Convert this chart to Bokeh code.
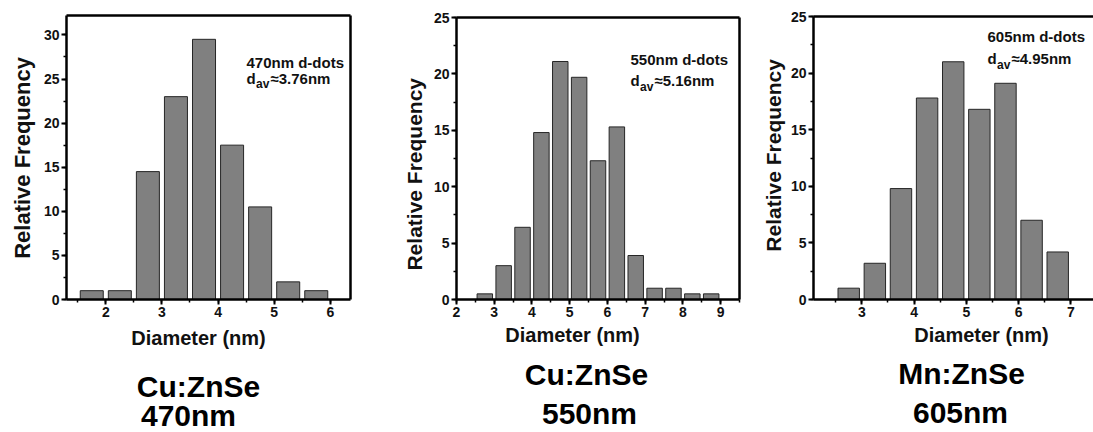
import math
from bokeh.plotting import figure
from bokeh.models import SingleIntervalTicker, FixedTicker, LinearAxis, Label, Range1d
from bokeh.layouts import row, column
from bokeh.core.properties import value
from bokeh.embed import file_html
from bokeh.resources import INLINE

# ---------------- data ----------------
diam_470 = [1.75, 2.25, 2.75, 3.25, 3.75, 4.25, 4.75, 5.25, 5.75]
freq_470 = [1.0, 1.0, 14.5, 23.0, 29.5, 17.5, 10.5, 2.0, 1.0]

diam_550 = [2.75, 3.25, 3.75, 4.25, 4.75, 5.25, 5.75, 6.25, 6.75, 7.25, 7.75, 8.25, 8.75]
freq_550 = [0.5, 3.0, 6.4, 14.8, 21.1, 19.7, 12.3, 15.3, 3.9, 1.0, 1.0, 0.5, 0.5]

diam_605 = [2.75, 3.25, 3.75, 4.25, 4.75, 5.25, 5.75, 6.25, 6.75]
freq_605 = [1.0, 3.2, 9.8, 17.8, 21.0, 16.8, 19.1, 7.0, 4.2]

materials = ["Cu:ZnSe", "Cu:ZnSe", "Mn:ZnSe"]
wavelengths = ["470nm", "550nm", "605nm"]
mean_diam = ["3.76", "5.16", "4.95"]
x_title = "Diameter (nm)"
y_title = "Relative Frequency"

# ---------------- layout / style (page pixel geometry) ----------------
FONT = "Liberation Sans"
TXT = "#111111"
PAGE_H = 432
CHART_H = 322
BASE_FIX = 0.33   # renderer puts the alphabetic baseline ~0.33 em lower than asked

panels = [
    dict(d=diam_470, f=freq_470, left=0, right=400, ywidth=36, fl=66, fr=350, ft=15, fb=299,
         xr=(1.30, 6.36), yr=(0, 32.2), right_axis=True,
         ylab=(22, 161.5, "22px"), xlab=(198, 344, 20),
         mat=(198, 396), wl=(188, 424.5), ann=(246, 66.7, 82.7)),
    dict(d=diam_550, f=freq_550, left=400, right=760, ywidth=28, fl=456, fr=739, ft=17, fb=299,
         xr=(2.0, 9.5), yr=(0, 25), right_axis=True,
         ylab=(414, 179, "21px"), xlab=(572, 341.5, 20),
         mat=(586, 384), wl=(589, 423), ann=(630, 64, 85)),
    dict(d=diam_605, f=freq_605, left=760, right=1093, ywidth=26, fl=813, fr=1093, ft=16, fb=299,
         xr=(2.076, 2.076 + 280 / 52.25), yr=(0, 25), right_axis=False,
         ylab=(772.5, 158, "21px"), xlab=(981, 341.5, 20),
         mat=(961, 383), wl=(960, 422), ann=(987, 40.7, 63.3)),
]
CAP_SIZE = 30
ANN_SIZE = 15
SUB_SIZE = 12


def blank(x_start, x_end, y_top, y_bottom):
    w = x_end - x_start
    h = y_bottom - y_top
    f = figure(width=w, height=h, output_backend="svg", toolbar_location=None,
               x_range=Range1d(x_start, x_end), y_range=Range1d(y_bottom, y_top),
               x_axis_location=None, y_axis_location=None,
               min_border=0, min_border_left=0, min_border_right=0,
               min_border_top=0, min_border_bottom=0,
               background_fill_color="white", border_fill_color="white")
    f.outline_line_color = None
    f.grid.visible = False
    return f


def frame_axis():
    return LinearAxis(ticker=FixedTicker(ticks=[]), axis_line_width=2.5, axis_line_color="black",
                      major_tick_line_color=None, minor_tick_line_color=None,
                      major_tick_out=0, minor_tick_out=0, major_tick_in=0, minor_tick_in=0,
                      major_label_text_font_size="0px", major_label_standoff=0)


cols = []
for i, P in enumerate(panels):
    fl, fr, ft, fb = P["fl"], P["fr"], P["ft"], P["fb"]
    x0, x1 = P["xr"]
    y0, y1 = P["yr"]
    chart_left = P["left"] + P["ywidth"]

    def to_data(px, py, size, fl=fl, fr=fr, ft=ft, fb=fb, x0=x0, x1=x1, y0=y0, y1=y1):
        py = py - BASE_FIX * size
        return (x0 + (px - fl) / (fr - fl) * (x1 - x0),
                y0 + (fb - py) / (fb - ft) * (y1 - y0))

    p = figure(width=P["right"] - chart_left, height=CHART_H, output_backend="svg",
               toolbar_location=None,
               x_range=Range1d(x0, x1), y_range=Range1d(y0, y1),
               min_border_left=fl - chart_left, min_border_right=P["right"] - fr,
               min_border_top=ft, min_border_bottom=CHART_H - fb,
               background_fill_color="white", border_fill_color="white")
    p.outline_line_color = None
    p.grid.visible = False

    p.vbar(x=P["d"], top=P["f"], width=0.41, bottom=0,
           fill_color="#808080", line_color="#262626", line_width=1)

    p.xaxis.ticker = SingleIntervalTicker(interval=1, num_minor_ticks=2)
    p.yaxis.ticker = SingleIntervalTicker(interval=5, num_minor_ticks=2)
    for ax in (p.xaxis[0], p.yaxis[0]):
        ax.axis_line_width = 2.5
        ax.axis_line_color = "black"
        ax.major_tick_line_width = 2
        ax.minor_tick_line_width = 1.5
        ax.major_tick_line_color = "black"
        ax.minor_tick_line_color = "black"
        ax.major_tick_in = 0
        ax.major_tick_out = 5
        ax.minor_tick_in = 0
        ax.minor_tick_out = 3
        ax.major_label_text_font = FONT
        ax.major_label_text_font_style = "bold"
        ax.major_label_text_font_size = "14px"
        ax.major_label_text_color = TXT
        ax.axis_label = None
    p.xaxis.major_label_standoff = 2
    p.yaxis.major_label_standoff = 2

    p.add_layout(frame_axis(), "above")
    if P["right_axis"]:
        p.add_layout(frame_axis(), "right")

    # annotation inside the frame
    ax_, b1, b2 = P["ann"]
    lx, ly = to_data(ax_, b1, ANN_SIZE)
    p.add_layout(Label(x=lx, y=ly, text=wavelengths[i] + " d-dots", text_align="left",
                       text_baseline="alphabetic", text_font=FONT, text_font_style="bold",
                       text_font_size=f"{ANN_SIZE}px", text_color=TXT))
    lx, ly = to_data(ax_, b2, ANN_SIZE)
    p.add_layout(Label(x=lx, y=ly, text="d", text_align="left", text_baseline="alphabetic",
                       text_font=FONT, text_font_style="bold", text_font_size=f"{ANN_SIZE}px",
                       text_color=TXT))
    lx, ly = to_data(ax_ + 9.5, b2 + 5, SUB_SIZE)
    p.add_layout(Label(x=lx, y=ly, text="av", text_align="left", text_baseline="alphabetic",
                       text_font=FONT, text_font_style="bold", text_font_size=f"{SUB_SIZE}px",
                       text_color=TXT))
    lx, ly = to_data(ax_ + 24, b2, ANN_SIZE)
    p.add_layout(Label(x=lx, y=ly, text="\u2248" + mean_diam[i] + "nm", text_align="left",
                       text_baseline="alphabetic", text_font=FONT, text_font_style="bold",
                       text_font_size=f"{ANN_SIZE}px", text_color=TXT))

    # y axis title strip (left of the chart)
    yf = blank(P["left"], chart_left, 0, CHART_H)
    yf.text(x=[P["ylab"][0]], y=[P["ylab"][1]], text=[y_title], angle=math.pi / 2,
            text_align="center", text_baseline="middle", text_font=value(FONT),
            text_font_style="bold", text_font_size=P["ylab"][2], text_color=TXT)

    # caption strip below the chart
    bf = blank(P["left"], P["right"], CHART_H, PAGE_H)
    xs = P["xlab"][2]
    bf.text(x=[P["xlab"][0]], y=[P["xlab"][1] - BASE_FIX * xs], text=[x_title],
            text_align="center", text_baseline="alphabetic", text_font=value(FONT),
            text_font_style="bold", text_font_size=f"{xs}px", text_color=TXT)
    bf.text(x=[P["mat"][0], P["wl"][0]],
            y=[P["mat"][1] - BASE_FIX * CAP_SIZE, P["wl"][1] - BASE_FIX * CAP_SIZE],
            text=[materials[i], wavelengths[i]],
            text_align="center", text_baseline="alphabetic", text_font=value(FONT),
            text_font_style="bold", text_font_size=f"{CAP_SIZE}px", text_color="black")

    cols.append(column(row(yf, p, spacing=0), bf, spacing=0))

layout = row(*cols, spacing=0)
open("out.html", "w").write(file_html(layout, INLINE))
